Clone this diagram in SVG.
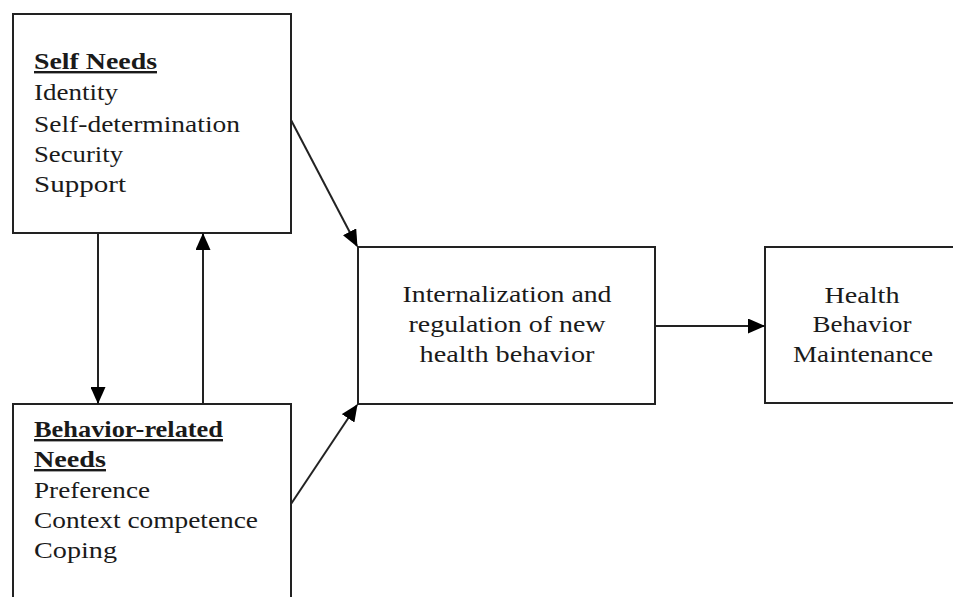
<svg xmlns="http://www.w3.org/2000/svg" width="953" height="597" viewBox="0 0 953 597">
<style>
.box{fill:#fff;stroke:#222;stroke-width:2}
.t{font-family:"Liberation Serif","DejaVu Serif",serif;font-size:24px;fill:#1a1a1a}
.h{font-weight:bold;text-decoration:underline}
.c{text-anchor:middle}
.ln{stroke:#222;stroke-width:2;fill:none}
</style>
<defs>
<marker id="ah" markerWidth="17" markerHeight="15" refX="16" refY="7.5" orient="auto" markerUnits="userSpaceOnUse" viewBox="0 0 17 15">
<path d="M0,0 L17,7.5 L0,15 Z" fill="#000"/>
</marker>
</defs>
<rect width="953" height="597" fill="#fff"/>
<g id="self-needs">
<rect class="box" x="13" y="14" width="278" height="219"/>
<text class="t h" x="34" y="69" textLength="123" lengthAdjust="spacingAndGlyphs">Self Needs</text>
<text class="t" x="34" y="100" textLength="84" lengthAdjust="spacingAndGlyphs">Identity</text>
<text class="t" x="34" y="132" textLength="206" lengthAdjust="spacingAndGlyphs">Self-determination</text>
<text class="t" x="34" y="162" textLength="89" lengthAdjust="spacingAndGlyphs">Security</text>
<text class="t" x="34" y="192" textLength="92" lengthAdjust="spacingAndGlyphs">Support</text>
</g>
<g id="behavior-needs">
<rect class="box" x="13" y="404" width="278" height="200"/>
<text class="t h" x="34" y="437" textLength="189" lengthAdjust="spacingAndGlyphs">Behavior-related</text>
<text class="t h" x="34" y="467" textLength="72" lengthAdjust="spacingAndGlyphs">Needs</text>
<text class="t" x="34" y="498" textLength="116" lengthAdjust="spacingAndGlyphs">Preference</text>
<text class="t" x="34" y="528" textLength="224" lengthAdjust="spacingAndGlyphs">Context competence</text>
<text class="t" x="34" y="558" textLength="83" lengthAdjust="spacingAndGlyphs">Coping</text>
</g>
<g id="internalization">
<rect class="box" x="358" y="247" width="297" height="157"/>
<text class="t c" x="507" y="302" textLength="209" lengthAdjust="spacingAndGlyphs">Internalization and</text>
<text class="t c" x="507" y="332" textLength="197" lengthAdjust="spacingAndGlyphs">regulation of new</text>
<text class="t c" x="507" y="362" textLength="175" lengthAdjust="spacingAndGlyphs">health behavior</text>
</g>
<g id="maintenance">
<rect class="box" x="765" y="247" width="200" height="156"/>
<text class="t c" x="862" y="303" textLength="75" lengthAdjust="spacingAndGlyphs">Health</text>
<text class="t c" x="862" y="332" textLength="99" lengthAdjust="spacingAndGlyphs">Behavior</text>
<text class="t c" x="863" y="362" textLength="140" lengthAdjust="spacingAndGlyphs">Maintenance</text>
</g>
<g id="connectors">
<line class="ln" x1="291" y1="120" x2="357" y2="246" marker-end="url(#ah)"/>
<line class="ln" x1="291" y1="504" x2="357" y2="405" marker-end="url(#ah)"/>
<line class="ln" x1="98" y1="233" x2="98" y2="403" marker-end="url(#ah)"/>
<line class="ln" x1="203" y1="404" x2="203" y2="234" marker-end="url(#ah)"/>
<line class="ln" x1="655" y1="326" x2="764" y2="326" marker-end="url(#ah)"/>
</g>
</svg>
